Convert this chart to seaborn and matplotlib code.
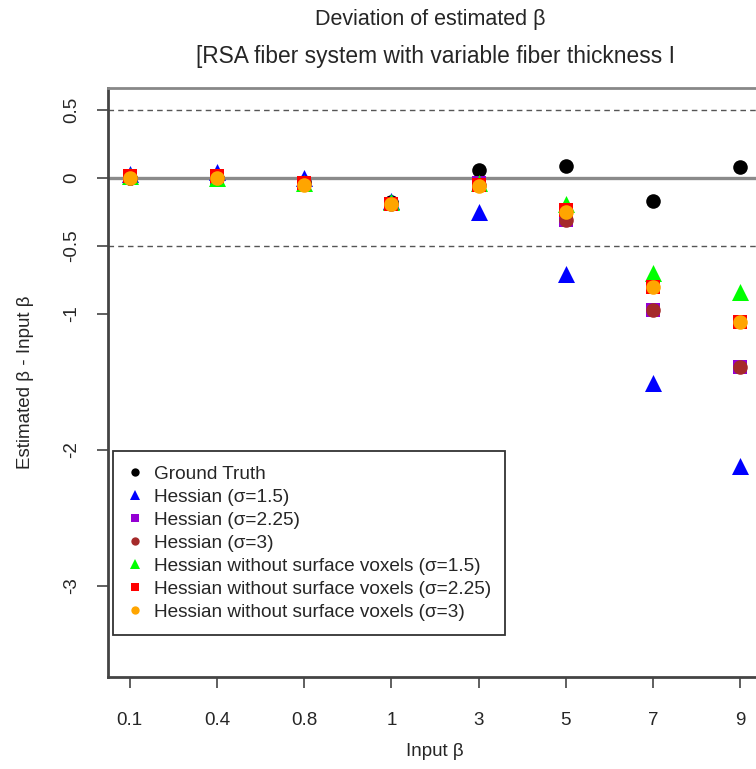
import matplotlib
matplotlib.use("Agg")
import matplotlib.pyplot as plt
from matplotlib.lines import Line2D
import seaborn as sns
import pandas as pd

# ---- data ----
categories = ["0.1", "0.4", "0.8", "1", "3", "5", "7", "9"]
ground_truth = [0.0, 0.0, -0.03, -0.18, 0.055, 0.09, -0.17, 0.08]
hess_15 = [0.03, 0.04, 0.0, -0.17, -0.25, -0.71, -1.51, -2.12]
hess_225 = [0.0, 0.0, -0.04, -0.19, -0.04, -0.31, -0.97, -1.39]
hess_3 = [0.0, 0.0, -0.04, -0.19, -0.05, -0.31, -0.97, -1.39]
nosurf_15 = [0.01, 0.0, -0.04, -0.18, -0.04, -0.19, -0.70, -0.84]
nosurf_225 = [0.01, 0.01, -0.04, -0.19, -0.05, -0.24, -0.80, -1.06]
nosurf_3 = [0.0, 0.0, -0.05, -0.19, -0.06, -0.25, -0.80, -1.06]
series_names = [
    "Ground Truth",
    "Hessian (σ=1.5)",
    "Hessian (σ=2.25)",
    "Hessian (σ=3)",
    "Hessian without surface voxels (σ=1.5)",
    "Hessian without surface voxels (σ=2.25)",
    "Hessian without surface voxels (σ=3)",
]
y_ticks = [0.5, 0, -0.5, -1, -2, -3]
y_tick_labels = ["0.5", "0", "-0.5", "-1", "-2", "-3"]

series_values = [ground_truth, hess_15, hess_225, hess_3, nosurf_15, nosurf_225, nosurf_3]
colors = ["black", "#0000FF", "#9400D3", "#A52A2A", "#00FF00", "#FF0000", "#FFA500"]
markers = ["o", "^", "s", "o", "^", "s", "o"]
sizes = [110, 150, 110, 110, 150, 110, 110]

sns.set_style("white")
plt.rcParams["font.family"] = ["Liberation Sans", "DejaVu Sans"]

fig = plt.figure(figsize=(7.56, 7.69), dpi=100)
ax = fig.add_axes([108 / 756, 1 - 677 / 769, 654 / 756, (677 - 88) / 769])

# reference lines
ax.axhline(0, color="#8a8a8a", lw=2.4, zorder=1)
ax.axhline(0.5, color="#555555", lw=1.0, ls=(0, (4, 3)), zorder=1)
ax.axhline(-0.5, color="#555555", lw=1.0, ls=(0, (4, 3)), zorder=1)

for i, (name, vals) in enumerate(zip(series_names, series_values)):
    df = pd.DataFrame({"beta": categories, "dev": vals})
    sns.scatterplot(data=df, x="beta", y="dev", ax=ax, color=colors[i],
                    marker=markers[i], s=sizes[i], linewidth=0, zorder=3 + i,
                    legend=False)

ax.set_xlim(-0.25, 7.25)
ax.set_ylim(-3.67, 0.66)
ax.set_yticks(y_ticks)
ax.set_yticklabels(y_tick_labels, rotation=90, va="center", fontsize=13.5)
ax.tick_params(axis="x", labelsize=13.5, pad=17)
ax.tick_params(axis="y", pad=12)
ax.tick_params(axis="both", which="major", direction="out", length=8,
               width=1.2, color="#444444", left=True, bottom=True)
ax.set_xlabel("Input β", fontsize=13.5, labelpad=10)
ax.set_ylabel("Estimated β - Input β", fontsize=13.5, labelpad=21)

for side, sp in ax.spines.items():
    sp.set_visible(True)
    sp.set_color("#888888")
    sp.set_linewidth(2.0)
ax.spines["left"].set_color("#444444")
ax.spines["bottom"].set_color("#444444")

fig.text(430 / 756, 1 - 20 / 769, "Deviation of estimated β", ha="center",
         va="center", fontsize=15.5)
fig.text(436 / 756, 1 - 57 / 769, "[RSA fiber system with variable fiber thickness I",
         ha="center", va="center", fontsize=16.4)

handles = [Line2D([], [], ls="none", marker=m, color=c, markersize=7 if m == "^" else 6,
                  markeredgewidth=0) for m, c in zip(markers, colors)]
leg = ax.legend(handles, series_names, loc="upper left",
                bbox_to_anchor=(113 / 756, 1 - 451 / 769), bbox_transform=fig.transFigure,
                fontsize=13.7, frameon=True, fancybox=False, framealpha=1,
                edgecolor="#333333", handlelength=0.8, handletextpad=0.6,
                labelspacing=0.3, borderpad=0.75, borderaxespad=0)
leg.get_frame().set_linewidth(1.3)

fig.savefig("out.png", dpi=100)
